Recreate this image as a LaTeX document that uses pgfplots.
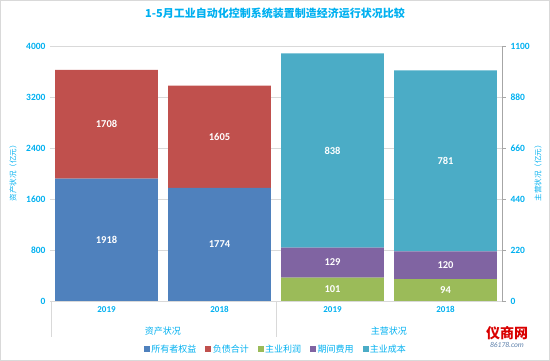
\documentclass[border=0pt]{standalone}
\usepackage{pgfplots}
\pgfplotsset{compat=1.18}
\usetikzlibrary{calc}
\usepackage{fontspec}
\setmainfont{Carlito}
\newfontfamily\cjk{Noto Sans CJK SC}
\definecolor{cBlue}{HTML}{4F81BD}
\definecolor{cRed}{HTML}{C0504D}
\definecolor{cGreen}{HTML}{9BBB59}
\definecolor{cPurple}{HTML}{8064A2}
\definecolor{cTeal}{HTML}{4BACC6}
\definecolor{cText}{HTML}{00B0F0}
\definecolor{cGrid}{HTML}{D9D9D9}
\definecolor{cAxis}{HTML}{A6A6A6}
\pgfplotsset{
  base/.style={
    width=452pt, height=255pt, scale only axis,
    xmin=-0.5, xmax=3.5, ymin=0,
    bar width=0.91,
    clip=false,
    /pgf/number format/assume math mode=true,
    /pgf/number format/1000 sep={},
    ticklabel style={font=\fontsize{9.5}{10}\selectfont\bfseries, text=cText},
    axis line style={draw=none},
    major tick style={draw=none},
  },
  lbl/.style={
    draw=none, mark=none, nodes near coords, point meta=explicit symbolic,
    every node near coord/.append style={anchor=center, font=\fontsize{10.5}{11}\selectfont\bfseries, text=white},
  },
}
\begin{document}
\begin{tikzpicture}
% left: asset status
\begin{axis}[base, name=ax, ybar stacked, ymax=4000, ytick={0,800,...,4000},
  ymajorgrids, grid style={cGrid, line width=0.8pt},
  xtick={0,1,2,3}, xticklabels={2019,2018,2019,2018},
  xticklabel style={font=\fontsize{9}{10}\selectfont\bfseries, text=cText, yshift=-2pt},
  yticklabel style={xshift=-1pt}]
\addplot[fill=cBlue, draw=none] coordinates {(0,1918) (1,1774)};
\addplot[fill=cRed, draw=none] coordinates {(0,1708) (1,1605)};
\draw[cGrid, line width=0.8pt] (axis cs:-0.49,0) -- ++(0pt,-36pt);
\draw[cGrid, line width=0.8pt] (axis cs:1.5,0) -- ++(0pt,-36pt);
\node[font=\cjk\fontsize{9}{10}\selectfont, text=cText] at ($(axis cs:0.5,0)+(0pt,-30pt)$) {资产状况};
\node[font=\cjk\fontsize{9}{10}\selectfont, text=cText] at ($(axis cs:2.5,0)+(0pt,-30pt)$) {主营状况};
\end{axis}
% right: main business
\begin{axis}[base, ybar stacked, ymax=1100, ytick={0,220,...,1100},
  axis x line=none, axis y line*=right,
  y axis line style={draw=cAxis, line width=0.8pt},
  ytick style={draw=cAxis, line width=0.8pt}, tick align=outside, major tick length=4pt,
  yticklabel style={xshift=1pt},
  legend columns=5,
  legend style={at={(0.5,0)}, anchor=center, yshift=-48pt, draw=none, fill=none,
    font=\cjk\fontsize{9}{10}\selectfont\color{cText},
    /tikz/every even column/.append style={column sep=7pt}},
  ]
\addlegendimage{legend image code/.code={\fill[cBlue] (0pt,-2.5pt) rectangle (5pt,2.5pt);}}
\addlegendentry{所有者权益}
\addlegendimage{legend image code/.code={\fill[cRed] (0pt,-2.5pt) rectangle (5pt,2.5pt);}}
\addlegendentry{负债合计}
\addlegendimage{legend image code/.code={\fill[cGreen] (0pt,-2.5pt) rectangle (5pt,2.5pt);}}
\addlegendentry{主业利润}
\addlegendimage{legend image code/.code={\fill[cPurple] (0pt,-2.5pt) rectangle (5pt,2.5pt);}}
\addlegendentry{期间费用}
\addlegendimage{legend image code/.code={\fill[cTeal] (0pt,-2.5pt) rectangle (5pt,2.5pt);}}
\addlegendentry{主业成本}
\addplot[fill=cGreen, draw=none, forget plot] coordinates {(2,101) (3,94)};
\addplot[fill=cPurple, draw=none, forget plot] coordinates {(2,129) (3,120)};
\addplot[fill=cTeal, draw=none, forget plot] coordinates {(2,838) (3,781)};
\end{axis}
% labels, left scale
\begin{axis}[base, hide axis, ymax=4000]
\addplot[lbl] coordinates {(0,959) [1918] (1,887) [1774] (0,2772) [1708] (1,2576.5) [1605]};
\end{axis}
% labels, right scale
\begin{axis}[base, hide axis, ymax=1100]
\addplot[lbl] coordinates {(2,50.5) [101] (3,47) [94] (2,166) [129] (3,154) [120] (2,649) [838] (3,604.5) [781]};
\end{axis}
% titles
\node[font=\cjk\fontsize{11}{12}\selectfont\bfseries, text=cText] at ($(ax.north west)+(225pt,33pt)$) {1-5月工业自动化控制系统装置制造经济运行状况比较};
\node[font=\cjk\fontsize{7.5}{8}\selectfont, text=cText, rotate=90] at ($(ax.west)+(-37pt,2pt)$) {资产状况（亿元）};
\node[font=\cjk\fontsize{7.5}{8}\selectfont, text=cText, rotate=90] at ($(ax.east)+(36pt,2pt)$) {主营状况（亿元）};
% watermark
\node[font=\cjk\fontsize{14}{15}\selectfont\bfseries, text=red!85!black] at ($(ax.south west)+(457pt,-32pt)$) {仪商网};
\node[font=\fontsize{7.5}{8}\selectfont\itshape, text=cBlue!70!gray] at ($(ax.south west)+(457pt,-44pt)$) {86178.com};
\pgfresetboundingbox
\useasboundingbox ($(ax.south west)+(-50pt,-60pt)$) rectangle ++(550pt,361pt);
\draw[cGrid, line width=0.8pt] ($(ax.south west)+(-49.6pt,-59.6pt)$) rectangle ++(549.2pt,360.2pt);
\end{tikzpicture}
\end{document}
